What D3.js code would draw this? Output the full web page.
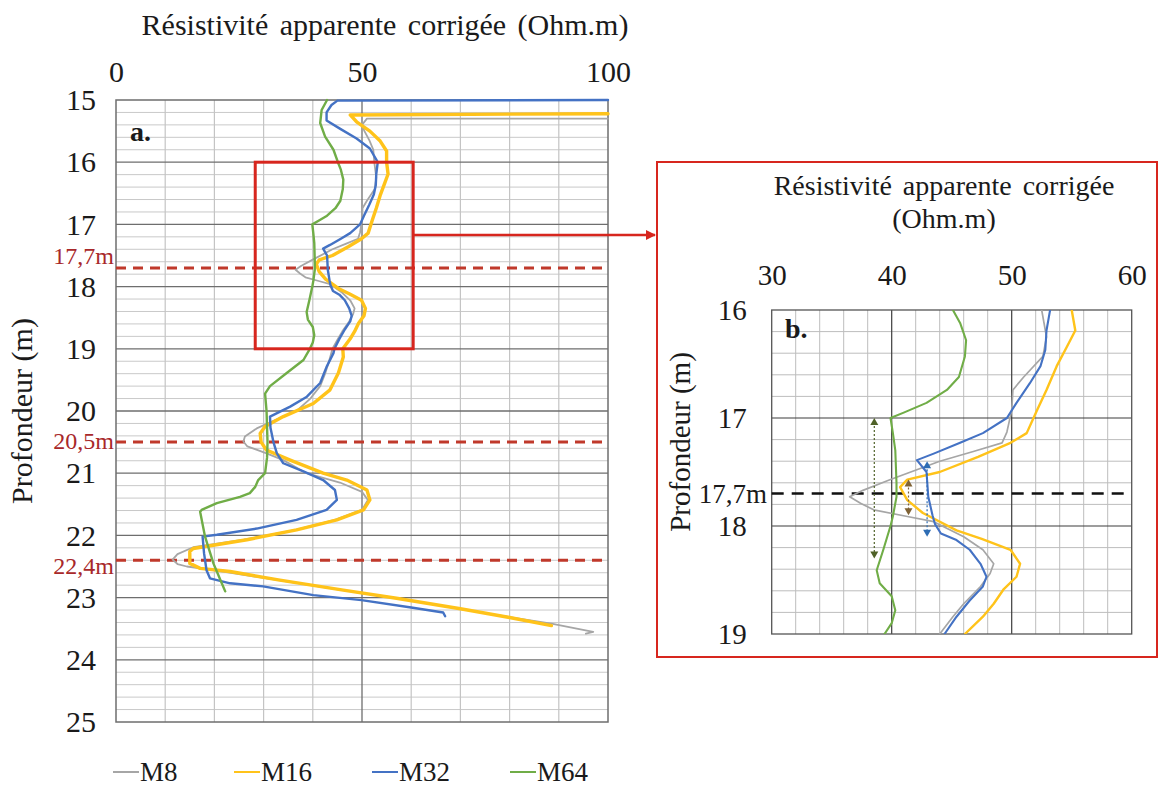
<!DOCTYPE html>
<html>
<head>
<meta charset="utf-8">
<script src="https://cdn.jsdelivr.net/npm/d3@7"></script>
<style>
  body { margin: 0; background: #fff; }
</style>
</head>
<body>
<svg id="chart" width="1158" height="786"></svg>
<script>
// Resistivity logs: [depth (m), corrected apparent resistivity (Ohm.m)]
const seriesNames = ["M8", "M16", "M32", "M64"];
const seriesColors = ["#a6a6a6", "#ffc31a", "#4472c4", "#70ad47"];

const m8 = [[15.30,100],[15.30,51.0],[15.40,50.0],[15.50,50.5],[15.65,51.5],[15.80,52.3],[16.00,52.5],[16.25,52.9],
  [16.43,52.6],[16.62,51.0],[16.74,50.1],[16.93,50.0],[17.13,49.6],[17.23,49.2],[17.31,46.8],[17.40,44.0],[17.57,39.9],
  [17.67,37.6],[17.73,36.5],[17.79,37.4],[17.85,38.5],[17.91,41.2],[17.96,43.5],[18.10,46.0],[18.22,47.6],[18.35,48.5],
  [18.44,48.2],[18.56,47.4],[18.72,46.0],[18.84,45.1],[19.00,44.0],[19.20,43.3],[19.40,42.5],[19.60,41.5],[19.80,39.5],
  [20.00,36.7],[20.14,32.5],[20.28,28.6],[20.41,26.2],[20.49,25.9],[20.57,26.7],[20.68,30.6],[20.79,34.0],[21.00,38.7],
  [21.15,45.5],[21.30,50.0],[21.43,51.2],[21.59,50.0],[21.75,44.5],[21.91,36.5],[22.07,26.0],[22.19,15.7],[22.30,12.5],
  [22.39,11.5],[22.46,12.5],[22.50,14.4],[22.56,19.8],[22.72,33.0],[22.88,46.0],[23.01,57.0],[23.25,75.0],[23.42,88.5],
  [23.55,97.0],[23.58,95.5]];

const m16 = [[15.22,100],[15.24,47.6],[15.35,48.9],[15.50,51.6],[15.66,53.7],[15.82,55.0],[16.00,55.0],[16.19,55.3],
  [16.34,54.6],[16.52,53.75],[16.74,52.9],[16.93,52.1],[17.14,51.25],[17.23,49.9],[17.36,47.2],[17.50,44.0],[17.57,41.3],
  [17.64,40.7],[17.76,41.3],[17.88,42.6],[18.04,45.4],[18.12,47.5],[18.22,49.9],[18.35,50.7],[18.47,50.4],[18.59,49.3],
  [18.72,48.5],[18.84,47.6],[19.00,46.1],[19.13,46.2],[19.39,45.2],[19.66,43.5],[19.88,40.1],[20.09,34.0],[20.25,30.3],
  [20.36,29.3],[20.50,29.5],[20.63,30.6],[20.79,35.4],[21.00,42.1],[21.11,46.9],[21.27,51.0],[21.43,51.6],[21.59,50.3],
  [21.75,44.9],[21.91,36.7],[22.07,26.6],[22.21,15.7],[22.26,15.0],[22.45,15.0],[22.53,17.1],[22.58,23.2],[22.72,33.3],
  [22.88,46.2],[23.01,57.0],[23.18,70.0],[23.32,80.0],[23.45,88.5]];

const m32 = [[15.00,100],[15.01,45.0],[15.08,43.8],[15.20,42.8],[15.33,42.8],[15.46,45.5],[15.62,48.9],[15.78,51.6],
  [16.00,53.2],[16.19,52.9],[16.37,52.8],[16.52,52.4],[16.68,51.5],[16.86,50.4],[17.00,49.6],[17.14,47.6],[17.23,45.7],
  [17.33,43.5],[17.39,42.1],[17.50,42.9],[17.73,43.05],[17.90,43.4],[17.98,43.6],[18.07,44.1],[18.13,45.4],[18.22,46.5],
  [18.35,47.4],[18.47,47.9],[18.56,47.6],[18.69,46.5],[18.84,45.4],[19.00,44.4],[19.07,44.2],[19.29,42.8],[19.55,41.5],
  [19.77,38.8],[19.93,35.4],[20.09,31.3],[20.27,31.4],[20.50,32.0],[20.68,32.7],[20.84,34.0],[20.97,38.1],[21.11,42.1],
  [21.27,44.5],[21.43,44.9],[21.59,42.8],[21.75,36.7],[21.89,28.6],[21.99,20.5],[22.02,17.6],[22.29,17.9],[22.56,18.4],
  [22.69,19.1],[22.77,23.2],[22.82,29.9],[22.96,40.1],[23.04,49.9],[23.16,60.0],[23.24,66.5],[23.30,66.9]];

const m64 = [[15.00,42.9],[15.16,41.8],[15.37,41.5],[15.59,42.5],[15.80,44.2],[16.00,45.1],[16.12,45.7],[16.28,46.2],
  [16.43,46.1],[16.62,45.6],[16.74,44.6],[16.86,42.9],[16.95,41.0],[17.00,39.9],[17.14,40.1],[17.30,40.3],[17.60,40.4],
  [17.73,40.4],[17.91,40.1],[18.00,39.9],[18.22,39.3],[18.41,38.75],[18.53,39.0],[18.65,40.0],[18.78,40.3],[18.90,40.0],
  [19.00,39.4],[19.18,38.1],[19.39,34.7],[19.60,31.3],[19.72,30.3],[20.00,30.6],[20.27,30.7],[20.50,30.8],[20.75,30.7],
  [21.00,30.3],[21.11,28.9],[21.22,28.3],[21.32,27.2],[21.38,25.2],[21.48,20.5],[21.59,17.4],[21.62,17.1],[22.02,18.1],
  [22.45,19.8],[22.77,21.5],[22.90,22.2]];

const seriesData = [m8, m16, m32, m64];

// Axis ticks
const xTicksA = [0, 50, 100];
const yTicksA = [15, 16, 17, 18, 19, 20, 21, 22, 23, 24, 25];
const xTicksB = [30, 40, 50, 60];
const yTicksB = [16, 17, 18, 19];

// Marked depths
const markDepthsA = [17.7, 20.5, 22.4];
const markLabelsA = ["17,7m", "20,5m", "22,4m"];
const markDepthB = 17.7;
const markLabelB = "17,7m";

// Shift arrows in the zoom panel: x (Ohm.m), top and bottom depth
const arrowX = [38.55, 41.4, 42.95];
const arrowTop = [17.0, 17.57, 17.40];
const arrowBottom = [18.3, 17.9, 18.1];
const arrowColors = ["#4f6228", "#7f6235", "#2e6db4"];

const titleText = "Résistivité apparente corrigée (Ohm.m)";
const depthTitle = "Profondeur (m)";

const serif = "'Liberation Serif', 'Tinos', 'Times New Roman', 'DejaVu Serif', serif";
const ink = "#1a1a1a";

const svg = d3.select("#chart");
svg.append("rect").attr("width", 1158).attr("height", 786).attr("fill", "#fff");

// ---------- Panel a ----------
const xA = d3.scaleLinear().domain([0, 100]).range([116, 608]);
const yA = d3.scaleLinear().domain([15, 25]).range([100, 722]);
const tickFontA = 30;

const gA = svg.append("g");
gA.selectAll("line.hminor").data(d3.range(15.2, 25, 0.2).filter(v => Math.abs(v - Math.round(v)) > 0.01))
  .join("line").attr("x1", xA(0)).attr("x2", xA(100))
  .attr("y1", d => yA(d)).attr("y2", d => yA(d))
  .attr("stroke", "#c9c9c9").attr("stroke-width", 1);
gA.selectAll("line.vminor").data(d3.range(10, 100, 10).filter(v => v !== 50))
  .join("line").attr("y1", yA(15)).attr("y2", yA(25))
  .attr("x1", d => xA(d)).attr("x2", d => xA(d))
  .attr("stroke", "#c4c4c4").attr("stroke-width", 1.2);
gA.selectAll("line.hmajor").data(d3.range(16, 25, 1))
  .join("line").attr("x1", xA(0)).attr("x2", xA(100))
  .attr("y1", d => yA(d)).attr("y2", d => yA(d))
  .attr("stroke", "#6e6e6e").attr("stroke-width", 1.3);
gA.append("line").attr("x1", xA(50)).attr("x2", xA(50)).attr("y1", yA(15)).attr("y2", yA(25))
  .attr("stroke", "#6e6e6e").attr("stroke-width", 1.3);
gA.append("rect").attr("x", xA(0)).attr("y", yA(15)).attr("width", xA(100) - xA(0)).attr("height", yA(25) - yA(15))
  .attr("fill", "none").attr("stroke", "#6e6e6e").attr("stroke-width", 1.5);

const axTopA = gA.append("g").attr("transform", `translate(0,${yA(15)})`)
  .call(d3.axisTop(xA).tickValues(xTicksA).tickFormat(d3.format("d")).tickSize(0).tickPadding(18));
axTopA.select(".domain").remove();
axTopA.selectAll("text").attr("font-size", tickFontA);
const axLeftA = gA.append("g").attr("transform", `translate(${xA(0)},0)`)
  .call(d3.axisLeft(yA).tickValues(yTicksA).tickFormat(d3.format("d")).tickSize(0).tickPadding(20));
axLeftA.select(".domain").remove();
axLeftA.selectAll("text").attr("font-size", tickFontA);

gA.append("text").attr("x", 385).attr("y", 35).attr("text-anchor", "middle").attr("font-size", 30)
  .attr("word-spacing", 4).text(titleText);
gA.append("text").attr("transform", `translate(32,${yA(20)}) rotate(-90)`).attr("text-anchor", "middle")
  .attr("font-size", 30).text(depthTitle);
gA.append("text").attr("x", 130).attr("y", 141).attr("font-size", 28).attr("font-weight", "bold").text("a.");

gA.selectAll("line.mark").data(markDepthsA).join("line")
  .attr("x1", xA(0)).attr("x2", xA(100)).attr("y1", d => yA(d)).attr("y2", d => yA(d))
  .attr("stroke", "#c0392b").attr("stroke-width", 3).attr("stroke-dasharray", "10,7");

// depth labels sit on their marker line, kept clear of the neighbouring tick labels
const markFont = 24;
const markBaseline = d => {
  const above = Math.floor(d), below = Math.ceil(d);
  const lo = yA(above) + 0.32 * tickFontA + 0.23 * tickFontA + 0.9 * markFont;
  const hi = yA(below) + 0.32 * tickFontA - 0.9 * tickFontA - 0.23 * markFont;
  return Math.max(lo, Math.min(hi, yA(d) + 6));
};
gA.selectAll("text.mark").data(markDepthsA).join("text").attr("class", "mark")
  .attr("x", 114).attr("y", markBaseline).attr("text-anchor", "end")
  .attr("font-size", markFont).attr("fill", "#a8282a").text((d, i) => markLabelsA[i]);

const lineA = d3.line().x(d => xA(d[1])).y(d => yA(d[0]));
const widthsA = [1.8, 3.4, 2.4, 2.4];
seriesData.forEach((s, i) => {
  gA.append("path").datum(s).attr("d", lineA).attr("fill", "none")
    .attr("stroke", seriesColors[i]).attr("stroke-width", widthsA[i])
    .attr("stroke-linejoin", "round").attr("stroke-linecap", "round");
});

// zoom frame around the 16-19 m interval
const zoomFrame = { r0: 28.3, r1: 60.4, d0: 16, d1: 19 };
gA.append("rect").attr("x", xA(zoomFrame.r0)).attr("y", yA(zoomFrame.d0))
  .attr("width", xA(zoomFrame.r1) - xA(zoomFrame.r0)).attr("height", yA(zoomFrame.d1) - yA(zoomFrame.d0))
  .attr("fill", "none").attr("stroke", "#d7261e").attr("stroke-width", 3);

const defs = svg.append("defs");
defs.append("marker").attr("id", "redArrow").attr("viewBox", "0 0 10 10").attr("refX", 9).attr("refY", 5)
  .attr("markerWidth", 4).attr("markerHeight", 4).attr("orient", "auto")
  .append("path").attr("d", "M0,0 L10,5 L0,10 z").attr("fill", "#d7261e");
svg.append("line").attr("x1", xA(zoomFrame.r1)).attr("x2", 655).attr("y1", 235).attr("y2", 235)
  .attr("stroke", "#d7261e").attr("stroke-width", 2.5).attr("marker-end", "url(#redArrow)");

// legend
const legendX = [113, 234, 372, 510];
const legend = svg.append("g");
seriesNames.forEach((n, i) => {
  legend.append("line").attr("x1", legendX[i]).attr("x2", legendX[i] + 26).attr("y1", 772).attr("y2", 772)
    .attr("stroke", seriesColors[i]).attr("stroke-width", 2);
  legend.append("text").attr("x", legendX[i] + 27).attr("y", 781).attr("font-size", 27).text(n);
});

// ---------- Panel b ----------
svg.append("rect").attr("x", 657).attr("y", 162).attr("width", 500).attr("height", 495)
  .attr("fill", "#fff").attr("stroke", "#d7261e").attr("stroke-width", 2);

const xB = d3.scaleLinear().domain([30, 60]).range([771.7, 1131.7]);
const yB = d3.scaleLinear().domain([16, 19]).range([310, 634]);
const gB = svg.append("g");
svg.append("clipPath").attr("id", "clipB").append("rect")
  .attr("x", xB(30)).attr("y", yB(16)).attr("width", xB(60) - xB(30)).attr("height", yB(19) - yB(16));

gB.selectAll("line.hminor").data(d3.range(16.2, 19, 0.2).filter(v => Math.abs(v - Math.round(v)) > 0.01))
  .join("line").attr("x1", xB(30)).attr("x2", xB(60)).attr("y1", d => yB(d)).attr("y2", d => yB(d))
  .attr("stroke", "#bdbdbd").attr("stroke-width", 1);
gB.selectAll("line.vminor").data(d3.range(32, 60, 2).filter(v => v % 10 !== 0))
  .join("line").attr("y1", yB(16)).attr("y2", yB(19)).attr("x1", d => xB(d)).attr("x2", d => xB(d))
  .attr("stroke", "#bdbdbd").attr("stroke-width", 1);
gB.selectAll("line.hmajor").data([17, 18]).join("line")
  .attr("x1", xB(30)).attr("x2", xB(60)).attr("y1", d => yB(d)).attr("y2", d => yB(d))
  .attr("stroke", "#3c3c3c").attr("stroke-width", 1.2);
gB.selectAll("line.vmajor").data([40, 50]).join("line")
  .attr("y1", yB(16)).attr("y2", yB(19)).attr("x1", d => xB(d)).attr("x2", d => xB(d))
  .attr("stroke", "#3c3c3c").attr("stroke-width", 1.2);
gB.append("rect").attr("x", xB(30)).attr("y", yB(16)).attr("width", xB(60) - xB(30)).attr("height", yB(19) - yB(16))
  .attr("fill", "none").attr("stroke", "#555").attr("stroke-width", 1.3);

const axTopB = gB.append("g").attr("transform", `translate(0,${yB(16)})`)
  .call(d3.axisTop(xB).tickValues(xTicksB).tickFormat(d3.format("d")).tickSize(0).tickPadding(25));
axTopB.select(".domain").remove();
axTopB.selectAll("text").attr("font-size", 29);
const axLeftB = gB.append("g").attr("transform", `translate(${xB(30)},0)`)
  .call(d3.axisLeft(yB).tickValues(yTicksB).tickFormat(d3.format("d")).tickSize(0).tickPadding(25));
axLeftB.select(".domain").remove();
axLeftB.selectAll("text").attr("font-size", 29);

gB.append("text").attr("x", 944).attr("y", 195).attr("text-anchor", "middle").attr("font-size", 28)
  .attr("word-spacing", 4).text("Résistivité apparente corrigée");
gB.append("text").attr("x", 944).attr("y", 228).attr("text-anchor", "middle").attr("font-size", 28).text("(Ohm.m)");
gB.append("text").attr("transform", `translate(690,442) rotate(-90)`).attr("text-anchor", "middle")
  .attr("font-size", 29).text(depthTitle);
gB.append("text").attr("x", 785).attr("y", 338).attr("font-size", 28).attr("font-weight", "bold").text("b.");

gB.append("line").attr("x1", xB(30)).attr("x2", xB(60)).attr("y1", yB(markDepthB)).attr("y2", yB(markDepthB))
  .attr("stroke", "#111").attr("stroke-width", 2.5).attr("stroke-dasharray", "12,8");
gB.append("text").attr("x", 767).attr("y", yB(markDepthB) + 9).attr("text-anchor", "end")
  .attr("font-size", 27).text(markLabelB);

const lineB = d3.line().x(d => xB(d[1])).y(d => yB(d[0]));
const widthsB = [1.7, 2.4, 2.1, 2.1];
const curvesB = gB.append("g").attr("clip-path", "url(#clipB)");
seriesData.forEach((s, i) => {
  curvesB.append("path").datum(s).attr("d", lineB).attr("fill", "none")
    .attr("stroke", seriesColors[i]).attr("stroke-width", widthsB[i]).attr("stroke-linejoin", "round");
});

arrowX.forEach((x, i) => {
  const cx = xB(x), t = yB(arrowTop[i]), b = yB(arrowBottom[i]);
  gB.append("line").attr("x1", cx).attr("x2", cx).attr("y1", t + 4).attr("y2", b - 4)
    .attr("stroke", arrowColors[i]).attr("stroke-width", 1.2).attr("stroke-dasharray", "2,2");
  gB.append("path").attr("d", `M${cx},${t} L${cx - 4},${t + 7} L${cx + 4},${t + 7} Z`).attr("fill", arrowColors[i]);
  gB.append("path").attr("d", `M${cx},${b} L${cx - 4},${b - 7} L${cx + 4},${b - 7} Z`).attr("fill", arrowColors[i]);
});

// serif typography throughout
svg.selectAll("g").filter(function () { return this.hasAttribute("font-family"); }).attr("font-family", null);
svg.selectAll("text").style("font-family", serif).each(function () {
  if (!this.getAttribute("fill") || this.getAttribute("fill") === "currentColor") d3.select(this).attr("fill", ink);
});
</script>
</body>
</html>
